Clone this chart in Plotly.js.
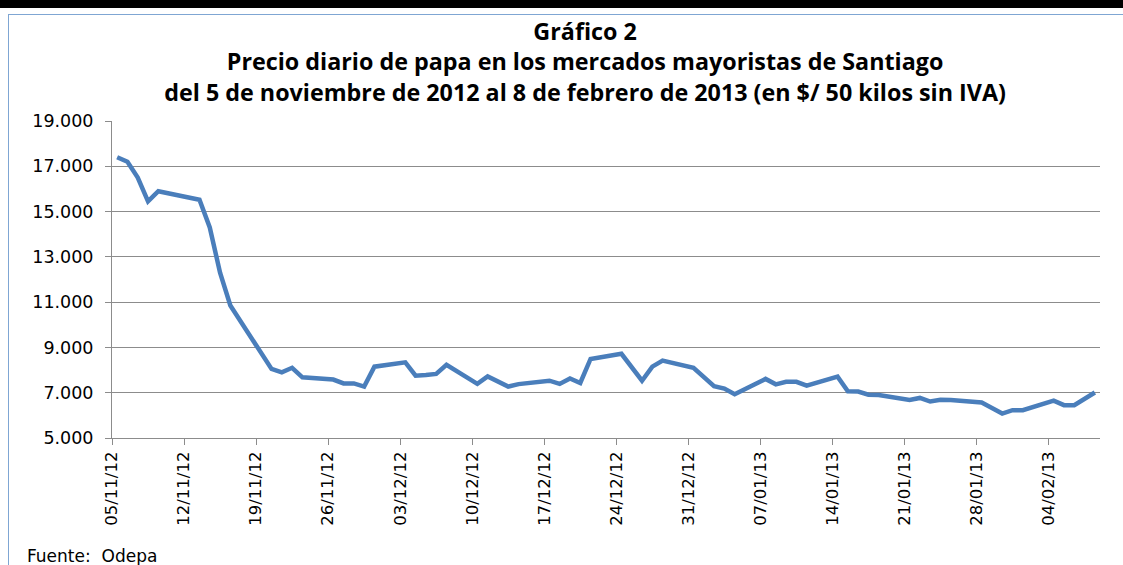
<!DOCTYPE html>
<html>
<head>
<meta charset="utf-8">
<script src="https://cdn.plot.ly/plotly-3.0.1.min.js"></script>
<style>
  html, body { margin: 0; padding: 0; background: #fff; }
  #wrap { position: relative; width: 1123px; height: 565px; overflow: hidden; background: #fff; }
  #topbar { position: absolute; left: 0; top: 0; width: 1123px; height: 8px; background: #000; }
  #frame { position: absolute; left: 8px; top: 14px; right: -2px; bottom: -2px;
           border-top: 1.5px solid #7fa6d3; border-left: 1.5px solid #7fa6d3; }
  #chart { position: absolute; left: 0; top: 0; width: 1123px; height: 565px; }
</style>
</head>
<body>
<div id="wrap">
  <div id="topbar"></div>
  <div id="frame"></div>
  <div id="chart"></div>
</div>
<script>
// Daily wholesale potato price, Santiago (CLP per 50 kg, without VAT)
const dates = [
  '2012-11-05','2012-11-06','2012-11-07','2012-11-08','2012-11-09',
  '2012-11-12','2012-11-13','2012-11-14','2012-11-15','2012-11-16',
  '2012-11-19','2012-11-20','2012-11-21','2012-11-22','2012-11-23',
  '2012-11-26','2012-11-27','2012-11-28','2012-11-29','2012-11-30',
  '2012-12-03','2012-12-04','2012-12-05','2012-12-06','2012-12-07',
  '2012-12-10','2012-12-11','2012-12-12','2012-12-13','2012-12-14',
  '2012-12-17','2012-12-18','2012-12-19','2012-12-20','2012-12-21',
  '2012-12-24','2012-12-26','2012-12-27','2012-12-28',
  '2012-12-31','2013-01-02','2013-01-03','2013-01-04',
  '2013-01-07','2013-01-08','2013-01-09','2013-01-10','2013-01-11',
  '2013-01-14','2013-01-15','2013-01-16','2013-01-17','2013-01-18',
  '2013-01-21','2013-01-22','2013-01-23','2013-01-24','2013-01-25',
  '2013-01-28','2013-01-29','2013-01-30','2013-01-31','2013-02-01',
  '2013-02-04','2013-02-05','2013-02-06','2013-02-07','2013-02-08'
];
const prices = [
  17400,17200,16500,15450,15900,
  15650,15520,14300,12300,10850,
  8700,8050,7900,8100,7680,
  7580,7410,7410,7270,8150,
  8340,7750,7780,7830,8230,
  7390,7720,7480,7270,7380,
  7530,7390,7630,7430,8490,
  8720,7530,8150,8420,
  8100,7290,7180,6930,
  7610,7370,7480,7480,7310,
  7710,7060,7050,6910,6900,
  6680,6770,6610,6690,6680,
  6570,6330,6080,6230,6230,
  6650,6450,6450,6730,7010
];
const xTickDates = ['2012-11-05','2012-11-12','2012-11-19','2012-11-26','2012-12-03','2012-12-10',
  '2012-12-17','2012-12-24','2012-12-31','2013-01-07','2013-01-14','2013-01-21','2013-01-28','2013-02-04'];
const xTickLabels = ['05/11/12','12/11/12','19/11/12','26/11/12','03/12/12','10/12/12',
  '17/12/12','24/12/12','31/12/12','07/01/13','14/01/13','21/01/13','28/01/13','04/02/13'];
const yTickVals = [5000,7000,9000,11000,13000,15000,17000,19000];
const yTickLabels = ['5.000','7.000','9.000','11.000','13.000','15.000','17.000','19.000'];

const titleText = 'Gráfico 2<br>Precio diario de papa en los mercados mayoristas de Santiago<br>' +
  'del 5 de noviembre de 2012 al 8 de febrero de 2013 (en $/ 50 kilos sin IVA)';
const sourceText = 'Fuente:  Odepa';

// Excel date axis: each day occupies a slot, points drawn in the middle of the slot
const xs = dates.map(d => d + ' 12:00');

const trace = {
  x: xs, y: prices, type: 'scatter', mode: 'lines',
  line: { color: '#4a7ebb', width: 4.5, shape: 'linear' },
  hoverinfo: 'x+y'
};

const gridCol = '#8c8c8c';

const layout = {
  width: 1123, height: 565,
  margin: { l: 112, r: 23, t: 121, b: 127, pad: 0 },
  paper_bgcolor: 'rgba(0,0,0,0)', plot_bgcolor: 'rgba(0,0,0,0)',
  showlegend: false,
  title: {
    text: titleText,
    font: { family: 'Open Sans', size: 23.3, color: '#000', weight: 'bold' },
    xref: 'container', x: 0.521, xanchor: 'center',
    yref: 'container', y: 0.929, yanchor: 'top'
  },
  xaxis: {
    type: 'date',
    range: ['2012-11-05', '2013-02-09'],
    tickmode: 'array', tickvals: xTickDates, ticktext: xTickLabels,
    tickangle: -90, tickfont: { family: 'DejaVu Sans', size: 16.5, color: '#000' },
    showgrid: false, zeroline: false,
    showline: true, linecolor: gridCol, linewidth: 1,
    ticks: 'outside', ticklen: 6, tickcolor: gridCol, tickwidth: 1
  },
  yaxis: {
    range: [5000, 19000],
    tickmode: 'array', tickvals: yTickVals, ticktext: yTickLabels,
    tickfont: { family: 'DejaVu Sans', size: 17.5, color: '#000' },
    ticklabelstandoff: 8,
    showgrid: true, gridcolor: gridCol, gridwidth: 1, zeroline: false,
    showline: true, linecolor: gridCol, linewidth: 1,
    ticks: 'outside', ticklen: 6, tickcolor: gridCol, tickwidth: 1
  },
  annotations: [{
    text: sourceText, showarrow: false,
    xref: 'paper', yref: 'paper', x: -0.088, y: -0.371,
    xanchor: 'left', yanchor: 'middle',
    font: { family: 'DejaVu Sans', size: 17, color: '#000' }
  }]
};

Plotly.newPlot('chart', [trace], layout, { displayModeBar: false, staticPlot: true });
</script>
</body>
</html>
